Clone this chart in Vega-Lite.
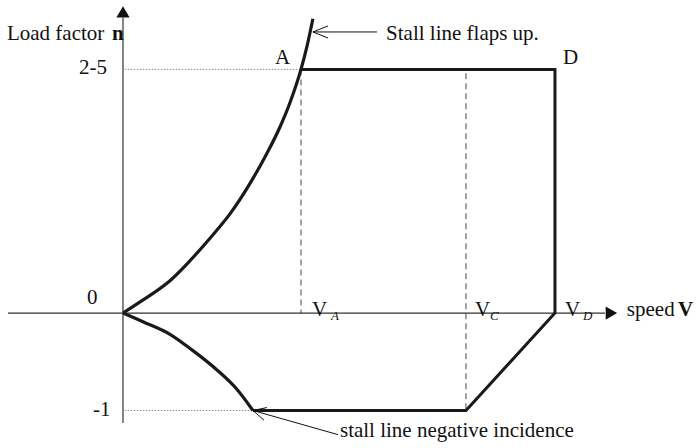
{
  "$schema": "https://vega.github.io/schema/vega-lite/v6.json",
  "width": 697,
  "height": 448,
  "autosize": {"type": "fit", "contains": "padding"},
  "padding": 0,
  "background": "white",
  "config": {"view": {"stroke": null}},
  "datasets": {
    "axes": [
      {"g": "x", "v": -0.646, "n": 0, "o": 0},
      {"g": "x", "v": 2.708, "n": 0, "o": 1},
      {"g": "y", "v": 0, "n": -1.129, "o": 0},
      {"g": "y", "v": 0, "n": 3.03, "o": 1}
    ],
    "heads": [
      {"dir": "right", "v": 2.744, "n": 0},
      {"dir": "up", "v": 0, "n": 3.09}
    ],
    "dotted": [
      {"g": "pos", "v": 0.01, "n": 2.5, "o": 0},
      {"g": "pos", "v": 1.0, "n": 2.5, "o": 1},
      {"g": "neg", "v": 0.01, "n": -1, "o": 0},
      {"g": "neg", "v": 0.73, "n": -1, "o": 1}
    ],
    "dashed": [
      {"g": "VA", "v": 1.0, "n": 2.5, "o": 0},
      {"g": "VA", "v": 1.0, "n": 0, "o": 1},
      {"g": "VC", "v": 1.927, "n": 2.46, "o": 0},
      {"g": "VC", "v": 1.927, "n": -1, "o": 1}
    ],
    "stall": [
      {"g": "stallpos", "v": 0, "n": 0},
      {"g": "stallpos", "v": 0.096, "n": 0.114},
      {"g": "stallpos", "v": 0.264, "n": 0.332},
      {"g": "stallpos", "v": 0.489, "n": 0.768},
      {"g": "stallpos", "v": 0.601, "n": 1.017},
      {"g": "stallpos", "v": 0.713, "n": 1.328},
      {"g": "stallpos", "v": 0.809, "n": 1.639},
      {"g": "stallpos", "v": 0.882, "n": 1.909},
      {"g": "stallpos", "v": 0.938, "n": 2.158},
      {"g": "stallpos", "v": 1.0, "n": 2.5},
      {"g": "stallpos", "v": 1.034, "n": 2.739},
      {"g": "stallpos", "v": 1.067, "n": 3.02},
      {"g": "stallneg", "v": 0, "n": 0},
      {"g": "stallneg", "v": 0.112, "n": -0.089},
      {"g": "stallneg", "v": 0.264, "n": -0.218},
      {"g": "stallneg", "v": 0.393, "n": -0.386},
      {"g": "stallneg", "v": 0.528, "n": -0.584},
      {"g": "stallneg", "v": 0.64, "n": -0.782},
      {"g": "stallneg", "v": 0.73, "n": -1}
    ],
    "limit": [
      {"v": 1.0, "n": 2.5, "o": 0},
      {"v": 2.427, "n": 2.5, "o": 1},
      {"v": 2.427, "n": 0, "o": 2},
      {"v": 1.927, "n": -1, "o": 3},
      {"v": 0.73, "n": -1, "o": 4}
    ],
    "pointers": [
      {"g": "topchev", "v": 1.152, "n": 2.946, "o": 0},
      {"g": "topchev", "v": 1.067, "n": 2.884, "o": 1},
      {"g": "topchev", "v": 1.152, "n": 2.822, "o": 2},
      {"g": "topline", "v": 1.067, "n": 2.884, "o": 0},
      {"g": "topline", "v": 1.427, "n": 2.884, "o": 1},
      {"g": "botchev", "v": 0.809, "n": -0.97, "o": 0},
      {"g": "botchev", "v": 0.73, "n": -1, "o": 1},
      {"g": "botchev", "v": 0.792, "n": -1.099, "o": 2},
      {"g": "botline", "v": 0.73, "n": -1, "o": 0},
      {"g": "botline", "v": 1.208, "n": -1.248, "o": 1}
    ],
    "labels": [
      {"t": "Load factor", "v": -0.652, "n": 2.8},
      {"t": "Stall line flaps up.", "v": 1.478, "n": 2.8},
      {"t": "A", "v": 0.854, "n": 2.552},
      {"t": "D", "v": 2.472, "n": 2.552},
      {"t": "2-5", "v": -0.247, "n": 2.448},
      {"t": "0", "v": -0.202, "n": 0.093},
      {"t": "-1", "v": -0.169, "n": -1.059},
      {"t": "V", "v": 1.062, "n": -0.03},
      {"t": "V", "v": 1.978, "n": -0.03},
      {"t": "V", "v": 2.483, "n": -0.03},
      {"t": "speed", "v": 2.831, "n": -0.03},
      {"t": "stall line negative incidence", "v": 1.219, "n": -1.277}
    ],
    "bold": [
      {"t": "n", "v": -0.062, "n": 2.8},
      {"t": "V", "v": 3.118, "n": -0.03}
    ],
    "subs": [
      {"t": "A", "v": 1.169, "n": -0.069},
      {"t": "C", "v": 2.062, "n": -0.069},
      {"t": "D", "v": 2.584, "n": -0.069}
    ]
  },
  "encoding": {
    "x": {"field": "v", "type": "quantitative", "scale": {"domain": [-0.691, 3.225], "nice": false, "zero": false}, "axis": null},
    "y": {"field": "n", "type": "quantitative", "scale": {"domain": [-1.385, 3.212], "nice": false, "zero": false}, "axis": null}
  },
  "layer": [
    {
      "data": {"name": "dotted"},
      "mark": {"type": "line", "color": "#8a8a8a", "strokeWidth": 1, "strokeDash": [1.5, 1.5]},
      "encoding": {"detail": {"field": "g"}, "order": {"field": "o", "type": "quantitative"}}
    },
    {
      "data": {"name": "dashed"},
      "mark": {"type": "line", "color": "#666666", "strokeWidth": 1.2, "strokeDash": [6, 4]},
      "encoding": {"detail": {"field": "g"}, "order": {"field": "o", "type": "quantitative"}}
    },
    {
      "data": {"name": "axes"},
      "mark": {"type": "line", "color": "#333333", "strokeWidth": 1.2},
      "encoding": {"detail": {"field": "g"}, "order": {"field": "o", "type": "quantitative"}}
    },
    {
      "data": {"name": "heads"},
      "mark": {"type": "point", "filled": true, "color": "#111111", "size": 175, "opacity": 1},
      "encoding": {"shape": {"field": "dir", "type": "nominal", "scale": {"domain": ["right", "up"], "range": ["triangle-right", "triangle-up"]}, "legend": null}}
    },
    {
      "data": {"name": "stall"},
      "mark": {"type": "line", "color": "#1a1a1a", "strokeWidth": 3.2, "interpolate": "monotone"},
      "encoding": {"detail": {"field": "g"}}
    },
    {
      "data": {"name": "limit"},
      "mark": {"type": "line", "color": "#1a1a1a", "strokeWidth": 3, "strokeJoin": "miter"},
      "encoding": {"order": {"field": "o", "type": "quantitative"}}
    },
    {
      "data": {"name": "pointers"},
      "mark": {"type": "line", "color": "#111111", "strokeWidth": 1},
      "encoding": {"detail": {"field": "g"}, "order": {"field": "o", "type": "quantitative"}}
    },
    {
      "data": {"name": "labels"},
      "mark": {"type": "text", "font": "Times New Roman, Liberation Serif, serif", "fontSize": 21, "align": "left", "baseline": "alphabetic", "color": "#111111"},
      "encoding": {"text": {"field": "t"}}
    },
    {
      "data": {"name": "bold"},
      "mark": {"type": "text", "font": "Times New Roman, Liberation Serif, serif", "fontSize": 21, "fontWeight": "bold", "align": "left", "baseline": "alphabetic", "color": "#111111"},
      "encoding": {"text": {"field": "t"}}
    },
    {
      "data": {"name": "subs"},
      "mark": {"type": "text", "font": "Times New Roman, Liberation Serif, serif", "fontSize": 13, "fontStyle": "italic", "align": "left", "baseline": "alphabetic", "color": "#111111"},
      "encoding": {"text": {"field": "t"}}
    }
  ]
}
